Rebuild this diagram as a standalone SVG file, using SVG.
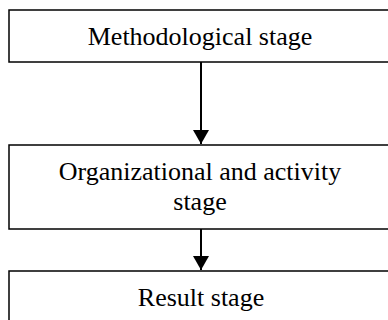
<svg xmlns="http://www.w3.org/2000/svg" width="388" height="320" viewBox="0 0 388 320">
<defs>
<marker id="arr" markerWidth="14" markerHeight="16" refX="14" refY="8" orient="auto" markerUnits="userSpaceOnUse">
<path d="M0,0 L14,8 L0,16 Z" fill="#000"/>
</marker>
<style>
.box{fill:#fff;stroke:#000;stroke-width:1.5}
.t{font-family:"Liberation Serif","Times New Roman",serif;font-size:26px;fill:#000;text-anchor:middle}
.c{stroke:#000;stroke-width:2;fill:none}
</style>
</defs>
<rect width="388" height="320" fill="#fff"/>
<g id="n1">
<rect class="box" x="9" y="10" width="400" height="52"/>
<text class="t" x="200" y="45">Methodological stage</text>
</g>
<g id="n2">
<rect class="box" x="9" y="145" width="400" height="84"/>
<text class="t" x="200" y="180">Organizational and activity</text>
<text class="t" x="200" y="210">stage</text>
</g>
<g id="n3">
<rect class="box" x="9" y="271" width="400" height="80"/>
<text class="t" x="201" y="306">Result stage</text>
</g>
<g id="connectors">
<line class="c" x1="201" y1="62" x2="201" y2="144" marker-end="url(#arr)"/>
<line class="c" x1="201" y1="229" x2="201" y2="270" marker-end="url(#arr)"/>
</g>
</svg>
